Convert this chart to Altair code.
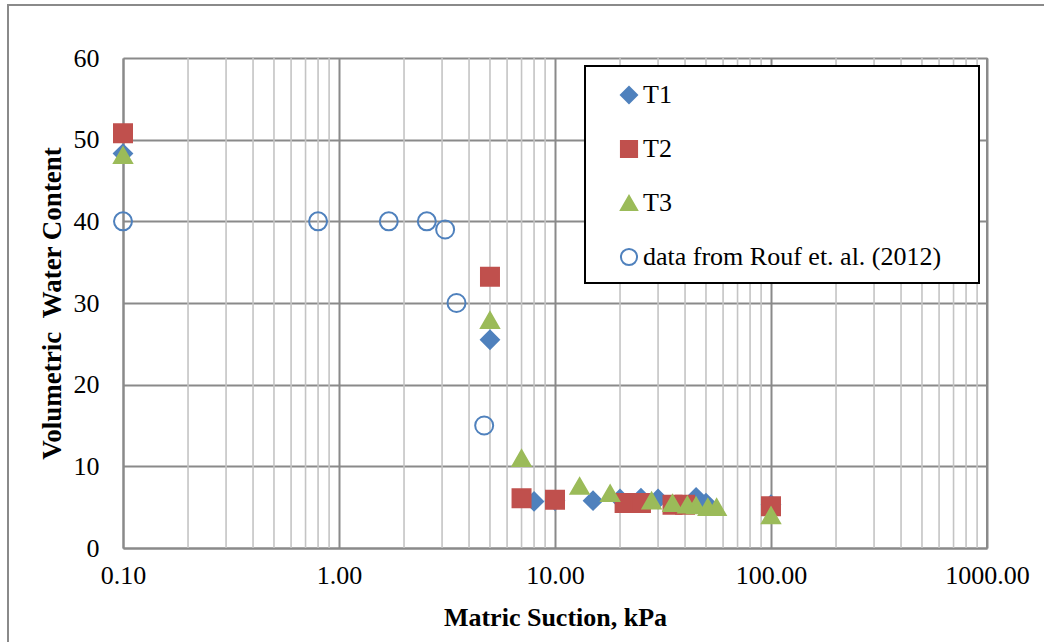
import altair as alt
import pandas as pd

# ---- data ----
t1_x = [0.1, 5, 8, 10, 15, 20, 25, 30, 45, 50, 100]
t1_y = [48.3, 25.5, 5.7, 5.8, 5.8, 6.0, 6.1, 6.0, 6.2, 5.5, 5.3]
t2_x = [0.1, 5, 7, 10, 21, 25, 35, 40, 100]
t2_y = [50.8, 33.2, 6.1, 5.9, 5.5, 5.5, 5.3, 5.3, 5.1]
t3_x = [0.1, 5, 7, 13, 18, 28, 35, 41, 45, 51, 56, 100]
t3_y = [48.1, 27.9, 11.0, 7.6, 6.7, 5.8, 5.5, 5.3, 5.2, 5.0, 5.0, 4.0]
rouf_x = [0.1, 0.8, 1.7, 2.55, 3.1, 3.5, 4.7]
rouf_y = [40, 40, 40, 40, 39, 30, 15]

series_names = ["T1", "T2", "T3", "data from Rouf et. al. (2012)"]
x_major = [0.1, 1, 10, 100, 1000]
x_minor = [0.2, 0.3, 0.4, 0.5, 0.6, 0.7, 0.8, 0.9,
           2, 3, 4, 5, 6, 7, 8, 9,
           20, 30, 40, 50, 60, 70, 80, 90,
           200, 300, 400, 500, 600, 700, 800, 900]
y_ticks = [0, 10, 20, 30, 40, 50, 60]

rows = []
for name, xs, ys in zip(series_names, [t1_x, t2_x, t3_x, rouf_x], [t1_y, t2_y, t3_y, rouf_y]):
    for a, b in zip(xs, ys):
        rows.append({"x": a, "y": b, "s": name})
df = pd.DataFrame(rows)

FONT = "Liberation Serif"
GRID_MAJOR = "#8a8a8a"
GRID_MINOR = "#c4c4c4"

xscale = alt.Scale(type="log", domain=[0.1, 1000], nice=False)
yscale = alt.Scale(domain=[0, 60], nice=False)

x_axis = alt.Axis(values=x_major, format=".2f", grid=True, gridColor=GRID_MAJOR, gridWidth=2,
                  ticks=False, domain=True, domainColor=GRID_MAJOR, domainWidth=2,
                  labelFont=FONT, labelFontSize=26, labelColor="black", labelPadding=14,
                  labelFlush=False, labelOverlap=False, labelBound=False,
                  title="Matric Suction, kPa", titleFont=FONT, titleFontSize=26,
                  titleFontWeight="bold", titleColor="black",
                  titleBaseline="middle", titleY=69)
y_axis = alt.Axis(values=y_ticks, grid=True, gridColor=GRID_MAJOR, gridWidth=2,
                  ticks=False, domain=True, domainColor=GRID_MAJOR, domainWidth=2,
                  labelFont=FONT, labelFontSize=26, labelColor="black", labelPadding=24,
                  labelFlush=False,
                  title="Volumetric\u00a0\u00a0Water Content", titleFont=FONT, titleFontSize=27,
                  titleFontWeight="bold", titleColor="black",
                  titleBaseline="middle", titleX=-71)

# outer chart frame (decoration)
frame = alt.Chart(pd.DataFrame({"k": [0]})).mark_rect(
    fill="transparent", stroke="#8a8a8a", strokeWidth=2
).encode(x=alt.value(-115), x2=alt.value(960), y=alt.value(-53), y2=alt.value(640))

minor = alt.Chart(pd.DataFrame({"m": x_minor})).mark_rule(
    color=GRID_MINOR, strokeWidth=1.6
).encode(x=alt.X("m:Q", scale=xscale, axis=x_axis), y=alt.value(0), y2=alt.value(490))

# right plot border
border = alt.Chart(pd.DataFrame({"k": [0]})).mark_rule(
    color=GRID_MAJOR, strokeWidth=2
).encode(x=alt.value(864), y=alt.value(0), y2=alt.value(490))

legend_box = alt.Chart(pd.DataFrame({"k": [0]})).mark_rect(
    fill="white", stroke="black", strokeWidth=2
).encode(x=alt.value(585 - 123), x2=alt.value(979 - 123), y=alt.value(66 - 58), y2=alt.value(283 - 58))

points = alt.Chart(df).mark_point(filled=True, size=324, strokeWidth=2, opacity=1).encode(
    x=alt.X("x:Q", scale=xscale, axis=x_axis),
    y=alt.Y("y:Q", scale=yscale, axis=y_axis),
    shape=alt.Shape("s:N", scale=alt.Scale(domain=series_names,
                    range=["diamond", "square", "triangle-up", "circle"]), title=None),
    fill=alt.Fill("s:N", scale=alt.Scale(domain=series_names,
                  range=["#4F81BD", "#C0504D", "#9BBB59", "transparent"]), title=None),
    stroke=alt.Stroke("s:N", scale=alt.Scale(domain=series_names,
                      range=["#4F81BD", "#C0504D", "#9BBB59", "#4F81BD"]), title=None),
    order=alt.Order("idx:Q"),
).transform_window(idx="row_number()")

chart = alt.layer(frame, minor, border, points, legend_box).properties(
    width=864, height=490,
    background="white",
    autosize=alt.AutoSizeParams(type="none"),
    padding={"left": 123, "top": 58, "right": 57, "bottom": 94},
).configure_view(stroke=None).configure_legend(
    orient="none", legendX=493, legendY=24, padding=0,
    symbolSize=260, symbolStrokeWidth=2, symbolOffset=0,
    labelFont=FONT, labelFontSize=26, labelColor="black", labelOffset=1,
    rowPadding=28, labelLimit=500, zindex=1,
)

chart.save("out.html", embed_options={"renderer": "svg", "actions": False})
